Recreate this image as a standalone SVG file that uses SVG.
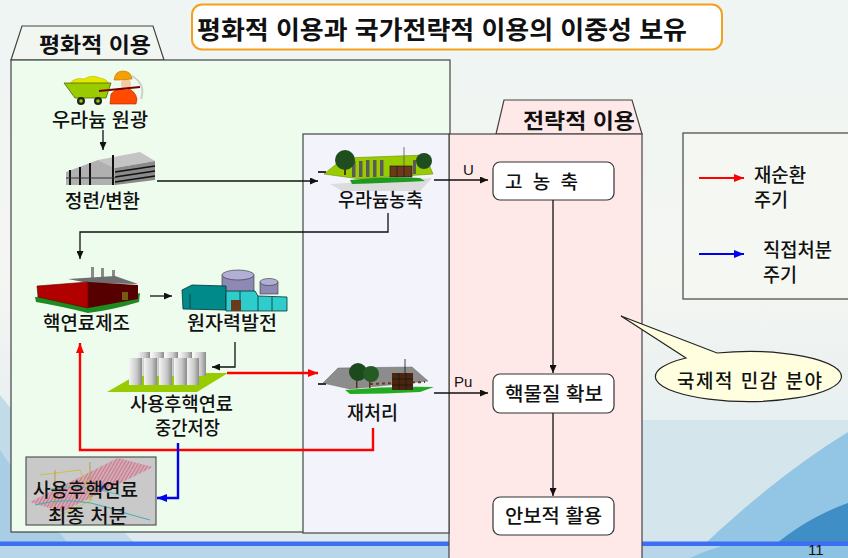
<svg xmlns="http://www.w3.org/2000/svg" width="848" height="558" viewBox="0 0 848 558">
  <defs>
    <style>
      .t { font-family: "Liberation Sans", "Noto Sans CJK KR", sans-serif; fill: #111; }
      .lbl { font-size: 19px; font-weight: 500; }
      .hdr { font-size: 21px; font-weight: bold; }
      .ttl { font-size: 25px; font-weight: bold; }
      .lat { font-family: "Liberation Sans", sans-serif; font-size: 15px; fill: #111; }
      .box { fill: #fff; stroke: #333; stroke-width: 1.2; }
      .ln { fill: none; stroke: #111; stroke-width: 1.3; }
      .red { fill: none; stroke: #ff0000; stroke-width: 2.4; }
      .blue { fill: none; stroke: #0000ee; stroke-width: 2.4; }
      .panel { stroke: #444; stroke-width: 1.2; }
    </style>
    <linearGradient id="bg" x1="0" y1="0" x2="0" y2="1">
      <stop offset="0" stop-color="#eef5f3"/>
      <stop offset="0.5" stop-color="#f4f6f2"/>
      <stop offset="1" stop-color="#dce9ef"/>
    </linearGradient>
    <linearGradient id="cyl" x1="0" y1="0" x2="1" y2="0">
      <stop offset="0" stop-color="#f4f4f4"/>
      <stop offset="0.6" stop-color="#c8c8c8"/>
      <stop offset="1" stop-color="#8a8a8a"/>
    </linearGradient>
    <pattern id="hatch" width="3" height="3" patternUnits="userSpaceOnUse" patternTransform="rotate(30)">
      <rect width="3" height="3" fill="#d9a8b4"/>
      <line x1="0" y1="0" x2="0" y2="3" stroke="#a0506a" stroke-width="1"/>
    </pattern>
    <marker id="ah" markerWidth="8" markerHeight="7" refX="8" refY="3.5" orient="auto" markerUnits="userSpaceOnUse">
      <path d="M0,0 L8,3.5 L0,7 Z" fill="#111"/>
    </marker>
    <marker id="ahr" markerWidth="10" markerHeight="8" refX="10" refY="4" orient="auto" markerUnits="userSpaceOnUse">
      <path d="M0,0 L10,4 L0,8 Z" fill="#ff0000"/>
    </marker>
    <marker id="ahb" markerWidth="10" markerHeight="8" refX="10" refY="4" orient="auto" markerUnits="userSpaceOnUse">
      <path d="M0,0 L10,4 L0,8 Z" fill="#0000ee"/>
    </marker>
  </defs>

  <!-- slide background -->
  <rect x="0" y="0" width="848" height="558" fill="url(#bg)"/>
  <path d="M0,395 Q60,470 150,558 L0,558 Z" fill="#c2dbe9"/>
  <path d="M0,450 Q40,510 80,558 L0,558 Z" fill="#a9cde4"/>
  <path d="M642,420 L848,420 L848,558 L642,558 Z" fill="#d5e5ec"/>
  <path d="M690,558 Q770,480 848,432 L848,558 Z" fill="#93c6e4"/>
  <path d="M760,558 Q800,520 848,503 L848,558 Z" fill="#3f8fc6"/>
  <rect x="0" y="546" width="848" height="12" fill="#b7d6ea"/>
  <path d="M690,558 Q710,549 722,546 L848,546 L848,558 Z" fill="#8cc2e2"/>
  <rect x="0" y="541.5" width="848" height="4.5" fill="#3c6ff2"/>
  <text class="lat" x="808" y="555" font-size="9">11</text>

  <!-- title -->
  <g id="title">
    <rect x="192" y="4.5" width="530" height="45" rx="10" fill="#fff" stroke="#f5a01c" stroke-width="2"/>
    <text class="t ttl" x="197" y="39" textLength="490" lengthAdjust="spacingAndGlyphs">평화적 이용과 국가전략적 이용의 이중성 보유</text>
  </g>

  <!-- peaceful-use panel -->
  <g id="panel-peaceful">
    <path class="panel" d="M11,60 L22,26 L153,26 L164,60 Z" fill="#f2f6f1"/>
    <rect class="panel" x="11" y="60" width="439" height="472" fill="#eefcee"/>
    <text class="t hdr" x="39" y="52" textLength="112" lengthAdjust="spacingAndGlyphs">평화적 이용</text>
  </g>

  <!-- strategic-use panel -->
  <g id="panel-strategic">
    <path class="panel" d="M496,134 L504,100 L632,100 L642,134 Z" fill="#ffe8e8"/>
    <rect class="panel" x="449" y="134" width="193" height="430" fill="#ffe8e8"/>
    <text class="t hdr" x="523" y="128" textLength="112" lengthAdjust="spacingAndGlyphs">전략적 이용</text>
  </g>

  <!-- overlapping facility panel -->
  <g id="panel-overlap">
    <rect class="panel" x="303" y="134" width="146" height="399" fill="#f3f4fb"/>
  </g>

  <!-- uranium ore -->
  <g id="node-ore">
    <path d="M70,84 Q74,77 84,79 Q92,74 100,78 Q107,79 109,84 Z" fill="#e6e600" stroke="#b5b500" stroke-width="0.6"/>
    <path d="M64,83 L111,83 L106,98 L75,98 Z" fill="#9acb00" stroke="#4d6b00" stroke-width="0.8"/>
    <circle cx="81" cy="101" r="4" fill="#222"/>
    <circle cx="81" cy="101" r="1.8" fill="#9acb00"/>
    <circle cx="98" cy="101" r="4" fill="#222"/>
    <circle cx="98" cy="101" r="1.8" fill="#9acb00"/>
    <path d="M110,104 L111,94 Q116,88 126,88 Q135,90 137,99 L136,104 Z" fill="#ff4a00" stroke="#aa2200" stroke-width="0.6"/>
    <ellipse cx="126" cy="84" rx="5" ry="5.5" fill="#f4c8a0"/>
    <path d="M114,80 Q115,71 123,71 Q131,71 132,79 L119,80 Z" fill="#f5a000" stroke="#b57000" stroke-width="0.6"/>
    <line x1="99" y1="91" x2="140" y2="87" stroke="#7a0000" stroke-width="2"/>
    <path d="M132,76 Q146,84 141,99" fill="none" stroke="#cfcfcf" stroke-width="2"/>
    <text class="t lbl" x="52" y="127" textLength="96" lengthAdjust="spacingAndGlyphs">우라늄 원광</text>
  </g>

  <!-- refining / conversion -->
  <g id="node-refining">
    <path d="M98,160 L140,152 L155,161 L115,168 Z" fill="#c4c4c4"/>
    <path d="M115,168 L155,161 L155,180 L115,185 Z" fill="#8a8a8a"/>
    <g stroke="#111" stroke-width="1.6">
      <line x1="115" y1="172" x2="155" y2="166"/>
      <line x1="115" y1="177" x2="155" y2="171"/>
      <line x1="115" y1="182" x2="155" y2="176"/>
    </g>
    <path d="M66,172 L98,160 L115,168 L115,185 L66,185 Z" fill="#b0b0b0"/>
    <g stroke="#111" stroke-width="2">
      <line x1="70" y1="170" x2="70" y2="185"/>
      <line x1="80" y1="167" x2="80" y2="185"/>
      <line x1="90" y1="163" x2="90" y2="185"/>
      <line x1="113" y1="155" x2="113" y2="185"/>
    </g>
    <line x1="66" y1="178" x2="115" y2="178" stroke="#333" stroke-width="1"/>
    <text class="t lbl" x="65" y="208" textLength="75" lengthAdjust="spacingAndGlyphs">정련/변환</text>
  </g>

  <!-- enrichment plant -->
  <g id="node-enrich">
    <path d="M330,184 L432,178 L420,191 L342,191 Z" fill="#dcdcdc"/>
    <path d="M324,174 L344,158 L425,155 L433,174 L360,179 Z" fill="#99cc00" stroke="#6a8f00" stroke-width="0.6"/>
    <g fill="#5a5a5a">
      <rect x="352" y="161" width="3.5" height="16"/>
      <rect x="359" y="161" width="3.5" height="16"/>
      <rect x="366" y="160" width="3.5" height="17"/>
      <rect x="373" y="160" width="3.5" height="17"/>
      <rect x="380" y="160" width="3.5" height="16"/>
      <rect x="413" y="160" width="3" height="14"/>
    </g>
    <rect x="390" y="166" width="22" height="11" fill="#6b3a1a" stroke="#111" stroke-width="0.6"/>
    <line x1="397" y1="166" x2="397" y2="177" stroke="#111" stroke-width="0.6"/>
    <line x1="404" y1="166" x2="404" y2="177" stroke="#111" stroke-width="0.6"/>
    <line x1="404" y1="147" x2="404" y2="166" stroke="#555" stroke-width="0.8"/>
    <path d="M350,180 Q385,176 420,178 L425,181 Q385,183 352,184 Z" fill="#1f9a1f"/>
    <rect x="344" y="163" width="2" height="12" fill="#5a3010"/>
    <circle cx="345" cy="160" r="10" fill="#1e4d1e"/>
    <circle cx="424" cy="161" r="8" fill="#1e4d1e"/>
    <rect x="318" y="171" width="8" height="2" fill="#333"/>
    <text class="t lbl" x="338" y="207" textLength="85" lengthAdjust="spacingAndGlyphs">우라늄농축</text>
  </g>

  <!-- fuel fabrication -->
  <g id="node-fabrication">
    <path d="M35,297 Q60,294 88,306 Q115,300 140,293 L139,302 Q112,310 88,313 Q60,306 36,302 Z" fill="#1f8a1f"/>
    <g fill="#8a8a8a">
      <rect x="91" y="267" width="3" height="16"/>
      <rect x="101" y="268" width="3" height="15"/>
      <rect x="112" y="270" width="3" height="13"/>
    </g>
    <path d="M68,279 L115,276 L138,284 L88,283 Z" fill="#6e6e6e"/>
    <path d="M37,286 L88,282 L88,308 L38,297 Z" fill="#b00000" stroke="#600000" stroke-width="0.6"/>
    <path d="M88,282 L138,285 L138,299 L88,308 Z" fill="#560000"/>
    <rect x="122" y="292" width="6" height="8" fill="#7a5a10"/>
    <text class="t lbl" x="43" y="330" textLength="87" lengthAdjust="spacingAndGlyphs">핵연료제조</text>
  </g>

  <!-- nuclear power plant -->
  <g id="node-power">
    <rect x="222" y="275" width="32" height="18" fill="#8d88b4" stroke="#333" stroke-width="0.6"/>
    <ellipse cx="238" cy="275" rx="16" ry="5" fill="#b3aed6" stroke="#333" stroke-width="0.6"/>
    <rect x="260" y="282" width="18" height="12" fill="#8d88b4" stroke="#333" stroke-width="0.6"/>
    <ellipse cx="269" cy="282" rx="9" ry="3.5" fill="#b3aed6" stroke="#333" stroke-width="0.6"/>
    <path d="M182,290 L192,285 L226,286 L226,310 L183,309 Z" fill="#008a8a" stroke="#033" stroke-width="0.8"/>
    <path d="M226,291 L255,291 L258,296 L287,297 L287,311 L226,311 Z" fill="#2fcccc" stroke="#033" stroke-width="0.8"/>
    <g stroke="#033" stroke-width="0.8">
      <line x1="240" y1="291" x2="240" y2="311"/>
      <line x1="258" y1="296" x2="258" y2="311"/>
      <line x1="272" y1="297" x2="272" y2="311"/>
      <line x1="190" y1="294" x2="190" y2="308"/>
    </g>
    <rect x="231" y="300" width="10" height="11" fill="#6b3a1a"/>
    <text class="t lbl" x="187" y="330" textLength="90" lengthAdjust="spacingAndGlyphs">원자력발전</text>
  </g>

  <!-- interim spent fuel storage -->
  <g id="node-storage">
    <path d="M140,373 L228,373 L197,392 L107,392 Z" fill="#99cc00"/>
    <g fill="url(#cyl)">
      <rect x="138" y="352" width="12" height="24"/>
      <rect x="152" y="352" width="12" height="24"/>
      <rect x="166" y="352" width="12" height="24"/>
      <rect x="180" y="352" width="12" height="24"/>
      <rect x="194" y="352" width="12" height="24"/>
      <rect x="129" y="358" width="13" height="27"/>
      <rect x="144" y="358" width="13" height="27"/>
      <rect x="159" y="358" width="13" height="27"/>
      <rect x="174" y="358" width="13" height="27"/>
      <rect x="187" y="358" width="12" height="27"/>
    </g>
    <text class="t lbl" x="130" y="411" textLength="103" lengthAdjust="spacingAndGlyphs">사용후핵연료</text>
    <text class="t lbl" x="155" y="435" textLength="65" lengthAdjust="spacingAndGlyphs">중간저장</text>
  </g>

  <!-- reprocessing plant -->
  <g id="node-reprocess">
    <path d="M323,383 L338,368 L412,367 L428,381 L350,389 Z" fill="#8c8c8c" stroke="#666" stroke-width="0.5"/>
    <line x1="370" y1="384" x2="425" y2="382" stroke="#6b3a1a" stroke-width="2" stroke-dasharray="3,3"/>
    <path d="M345,390 Q390,386 434,387 L420,392 Q385,394 350,394 Z" fill="#22aa22"/>
    <rect x="392" y="373" width="21" height="17" fill="#4a2510"/>
    <g stroke="#111" stroke-width="0.6">
      <line x1="399" y1="373" x2="399" y2="390"/>
      <line x1="406" y1="373" x2="406" y2="390"/>
      <line x1="392" y1="379" x2="413" y2="379"/>
      <line x1="392" y1="385" x2="413" y2="385"/>
    </g>
    <line x1="405" y1="359" x2="405" y2="373" stroke="#111" stroke-width="0.8"/>
    <rect x="356" y="376" width="1.5" height="12" fill="#5a3010"/>
    <rect x="369" y="377" width="1.5" height="11" fill="#5a3010"/>
    <circle cx="358" cy="372" r="9" fill="#1c4a1c"/>
    <circle cx="371" cy="374" r="8" fill="#245a24"/>
    <rect x="318" y="383" width="8" height="2" fill="#333"/>
    <text class="t lbl" x="347" y="420" textLength="51" lengthAdjust="spacingAndGlyphs">재처리</text>
  </g>

  <!-- final disposal -->
  <g id="node-disposal">
    <rect x="26" y="457" width="130" height="68" fill="#c9c9c9" stroke="#555" stroke-width="1.2"/>
    <path d="M30,502 L118,458 L153,467 L62,512 Z" fill="url(#hatch)"/>
    <g fill="none" stroke-width="1">
      <path d="M40,475 L80,470 L92,500 L60,515" stroke="#c8c050"/>
      <path d="M55,470 L55,520 M90,462 L90,500" stroke="#b8a040"/>
      <path d="M35,505 Q70,495 110,508 Q130,515 150,520" stroke="#40b0b0"/>
      <path d="M45,490 Q80,482 120,495" stroke="#50c0c0"/>
      <path d="M100,490 L106,484" stroke="#2233aa" stroke-width="2.5"/>
    </g>
    <text class="t lbl" x="33" y="497" textLength="105" lengthAdjust="spacingAndGlyphs" font-weight="bold" font-size="19">사용후핵연료</text>
    <text class="t lbl" x="48" y="523" textLength="79" lengthAdjust="spacingAndGlyphs" font-weight="bold" font-size="19">최종  처분</text>
  </g>

  <!-- strategic steps -->
  <g id="node-heu">
    <rect class="box" x="493" y="162" width="121" height="38" rx="7"/>
    <text class="t lbl" x="505" y="189" textLength="73" lengthAdjust="spacing">고 농 축</text>
  </g>
  <g id="node-secure">
    <rect class="box" x="493" y="374" width="121" height="39" rx="7"/>
    <text class="t lbl" x="505" y="401" textLength="98" lengthAdjust="spacingAndGlyphs">핵물질 확보</text>
  </g>
  <g id="node-military">
    <rect class="box" x="493" y="497" width="121" height="38" rx="7"/>
    <text class="t lbl" x="505" y="523" textLength="97" lengthAdjust="spacingAndGlyphs">안보적 활용</text>
  </g>

  <!-- legend -->
  <g id="legend">
    <rect x="683" y="133" width="170" height="166" fill="#f5f7f2" stroke="#444" stroke-width="1.2"/>
    <line x1="699" y1="178" x2="744" y2="178" stroke="#ff0000" stroke-width="1.8" marker-end="url(#ahr)"/>
    <line x1="699" y1="254" x2="744" y2="254" stroke="#0000ee" stroke-width="1.8" marker-end="url(#ahb)"/>
    <text class="t lbl" x="754" y="182" textLength="52" lengthAdjust="spacingAndGlyphs">재순환</text>
    <text class="t lbl" x="754" y="207" textLength="34" lengthAdjust="spacingAndGlyphs">주기</text>
    <text class="t lbl" x="763" y="257" textLength="69" lengthAdjust="spacingAndGlyphs">직접처분</text>
    <text class="t lbl" x="763" y="282" textLength="34" lengthAdjust="spacingAndGlyphs">주기</text>
  </g>

  <!-- sensitivity callout -->
  <g id="callout">
    <path d="M621,316 L717,353 A93,25 0 1 1 686,358 Z" fill="#ffffe0" stroke="#222" stroke-width="1.2"/>
    <text class="t lbl" x="677" y="388" textLength="145" lengthAdjust="spacing">국제적 민감 분야</text>
  </g>

  <!-- connectors -->
  <g id="connectors">
    <path class="ln" d="M103,130 V150" marker-end="url(#ah)"/>
    <path class="ln" d="M157,181 H318" marker-end="url(#ah)"/>
    <path class="ln" d="M388,213 V232 H80 V259" marker-end="url(#ah)"/>
    <path class="ln" d="M150,296 H172" marker-end="url(#ah)"/>
    <path class="ln" d="M235,342 V367 H212" marker-end="url(#ah)"/>
    <path class="ln" d="M434,180 H488" marker-end="url(#ah)"/>
    <path class="ln" d="M553,200 V373" marker-end="url(#ah)"/>
    <path class="ln" d="M434,393 H488" marker-end="url(#ah)"/>
    <path class="ln" d="M553,413 V496" marker-end="url(#ah)"/>
    <path class="red" d="M227,373 H318" marker-end="url(#ahr)"/>
    <path class="red" d="M373,428 V450 H80 V343" marker-end="url(#ahr)"/>
    <path class="blue" d="M178,443 V498 H157" marker-end="url(#ahb)"/>
    <text class="lat" x="463" y="175">U</text>
    <text class="lat" x="454" y="387">Pu</text>
  </g>
</svg>
